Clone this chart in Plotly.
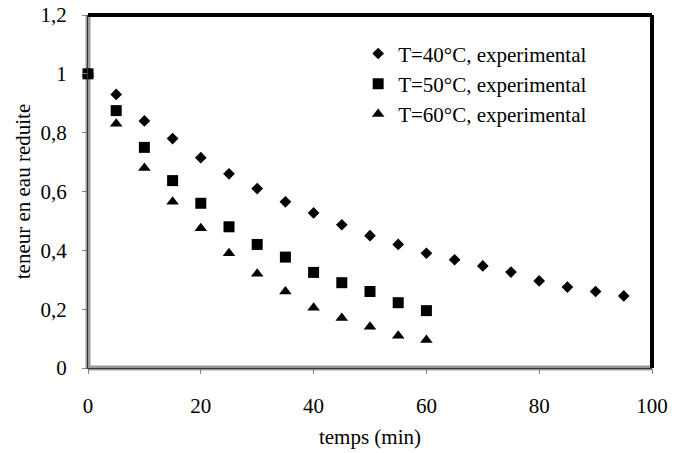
import plotly.graph_objects as go

t40 = [0, 5, 10, 15, 20, 25, 30, 35, 40, 45, 50, 55, 60, 65, 70, 75, 80, 85, 90, 95]
y40 = [1.0, 0.93, 0.84, 0.78, 0.715, 0.66, 0.61, 0.565, 0.527, 0.487, 0.45, 0.42, 0.39,
       0.368, 0.347, 0.326, 0.296, 0.275, 0.26, 0.245]
t50 = [0, 5, 10, 15, 20, 25, 30, 35, 40, 45, 50, 55, 60]
y50 = [1.0, 0.875, 0.75, 0.637, 0.56, 0.48, 0.42, 0.377, 0.325, 0.29, 0.26, 0.222, 0.195]
t60 = [0, 5, 10, 15, 20, 25, 30, 35, 40, 45, 50, 55, 60]
y60 = [1.0, 0.83, 0.68, 0.565, 0.475, 0.39, 0.32, 0.26, 0.205, 0.17, 0.14, 0.11, 0.095]

yticks = [0, 0.2, 0.4, 0.6, 0.8, 1.0, 1.2]
yticktext = ["0", "0,2", "0,4", "0,6", "0,8", "1", "1,2"]
xticks = [0, 20, 40, 60, 80, 100]

FONT = "Liberation Serif"
FS = 21

fig = go.Figure()
fig.add_trace(go.Scatter(x=t40, y=y40, mode="markers", name="T=40°C, experimental",
                         legendrank=1, cliponaxis=False,
                         marker=dict(symbol="diamond", size=9, color="black")))
fig.add_trace(go.Scatter(x=t60, y=y60, mode="markers", name="T=60°C, experimental",
                         legendrank=3, cliponaxis=False,
                         marker=dict(symbol="triangle-up", size=11, color="black")))
fig.add_trace(go.Scatter(x=t50, y=y50, mode="markers", name="T=50°C, experimental",
                         legendrank=2, cliponaxis=False,
                         marker=dict(symbol="square", size=11, color="black")))

shapes = [
    dict(type="line", xref="x domain", yref="y domain", x0=0, x1=0, y0=0, y1=1,
         line=dict(color="#9a9a9a", width=5), layer="below"),
    dict(type="line", xref="x domain", yref="y domain", x0=0, x1=1, y0=0, y1=0,
         line=dict(color="#9a9a9a", width=5), layer="below"),
    dict(type="line", xref="x domain", yref="y domain", x0=1, x1=1, y0=0, y1=1,
         line=dict(color="black", width=4)),
    dict(type="line", xref="x domain", yref="y domain", x0=0, x1=1, y0=1, y1=1,
         line=dict(color="black", width=4)),
]

fig.update_layout(
    width=680, height=453,
    margin=dict(l=88, r=28, t=15, b=85),
    paper_bgcolor="white", plot_bgcolor="white",
    font=dict(family=FONT, size=FS, color="black"),
    showlegend=True,
    shapes=shapes,
    legend=dict(x=0.479, y=0.948, xanchor="left", yanchor="top",
                font=dict(family=FONT, size=21, color="black"),
                bgcolor="rgba(0,0,0,0)", itemwidth=30, traceorder="normal"),
    xaxis=dict(range=[0, 100], tickvals=xticks, ticks="outside", ticklen=5,
               tickcolor="#808080", showgrid=False, zeroline=False,
               showline=True, linecolor="#333333", linewidth=1,
               ticklabelstandoff=14, automargin=False,
               title=dict(text="temps (min)", font=dict(family=FONT, size=FS), standoff=12),
               tickfont=dict(family=FONT, size=FS)),
    yaxis=dict(range=[0, 1.2], tickvals=yticks, ticktext=yticktext, ticks="outside",
               ticklen=5, tickcolor="#808080", showgrid=False, zeroline=False,
               showline=True, linecolor="#333333", linewidth=1,
               ticklabelstandoff=11, automargin=False,
               title=dict(text="teneur en eau reduite", font=dict(family=FONT, size=FS), standoff=4),
               tickfont=dict(family=FONT, size=FS)),
)

fig.write_html("out.html")
